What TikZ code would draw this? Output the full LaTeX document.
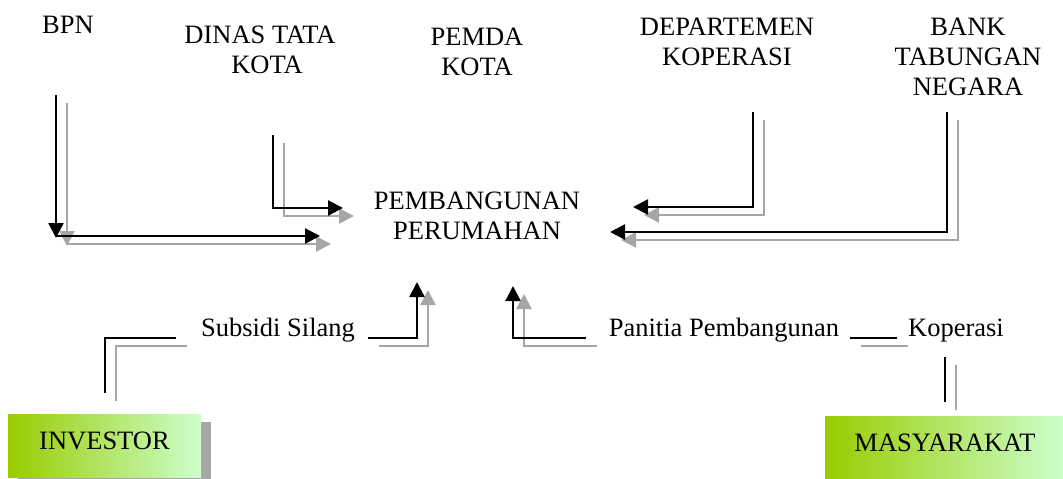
\documentclass[tikz,border=0pt]{standalone}
\usepackage{fontspec}
\setmainfont{Liberation Serif}
\usetikzlibrary{arrows.meta,shadows}
\definecolor{sgray}{RGB}{166,166,166}
\definecolor{gleft}{RGB}{153,204,0}
\definecolor{gright}{RGB}{204,255,204}

% all connectors of the chart; drawn once as a grey offset copy and once in black
\newcommand\flowlines{%
  \draw[conn,arr] (bpnA) -- (bpnB);
  \draw[conn,arr] (bpnC) -- (bpnD);
  \draw[conn,arr] (dinasA) -- (dinasB) -- (dinasC);
  \draw[conn,arr] (depA) -- (depB) -- (depC);
  \draw[conn,arr] (bankA) -- (bankB) -- (bankC);
  \draw[conn] (subA) -- (subB) -- (subC);
  \draw[conn,arr] (subD) -- (subE) -- (subF);
  \draw[conn,arr] (panA) -- (panB) -- (panC);
  \draw[conn] (kopA) -- (kopB);
  \draw[conn] (kopC) -- (kopD);
}

\begin{document}
\begin{tikzpicture}[x=1pt,y=-1pt,
  lbl/.style={font=\fontsize{26.5}{30}\selectfont, inner sep=0pt, align=center},
  conn/.style={line width=2.3pt},
  arr/.style={-{Triangle[length=15pt,width=15pt]}},
  greenbox/.style={lbl, left color=gleft, right color=gright, draw=none,
    text depth=10.4pt,
    drop shadow={shadow xshift=10pt, shadow yshift=-8pt, fill=sgray, opacity=1}}]
\useasboundingbox (0,0) rectangle (1063,479);
\clip (0,0) rectangle (1063,479);

% labels
\node[lbl, anchor=base] (bpn) at (68,34) {BPN};
\node[lbl, anchor=north] (dinas) at (260,25.6) {DINAS TATA\\\hspace*{14pt}KOTA};
\node[lbl, anchor=north] (pemda) at (477,27.6) {PEMDA\\KOTA};
\node[lbl, anchor=north] (dep) at (727,17.6) {DEPARTEMEN\\KOPERASI};
\node[lbl, anchor=north] (bank) at (968,17.6) {BANK\\TABUNGAN\\NEGARA};
\node[lbl, anchor=north] (pemb) at (477,191.6) {PEMBANGUNAN\\PERUMAHAN};
\node[lbl, anchor=base] (subsidi) at (278,336) {Subsidi Silang};
\node[lbl, anchor=base] (panitia) at (724,336) {Panitia Pembangunan};
\node[lbl, anchor=base] (koperasi) at (956,336) {Koperasi};

% boxes
\node[greenbox, minimum width=193pt, minimum height=63pt] (investor) at (104.5,445.5) {INVESTOR};
\node[greenbox, minimum width=240pt, minimum height=63pt] (masyarakat) at (945,447.5) {MASYARAKAT};

% connector end points
\coordinate (bpnA) at (56,95);   \coordinate (bpnB) at (56,238);
\coordinate (bpnC) at (56,236);  \coordinate (bpnD) at (320,236);
\coordinate (dinasA) at (273,135); \coordinate (dinasB) at (273,208); \coordinate (dinasC) at (343,208);
\coordinate (depA) at (753,112); \coordinate (depB) at (753,207); \coordinate (depC) at (633,207);
\coordinate (bankA) at (947,112); \coordinate (bankB) at (947,232); \coordinate (bankC) at (610,232);
\coordinate (subA) at (105,393); \coordinate (subB) at (105,338); \coordinate (subC) at (176,338);
\coordinate (subD) at (368,338); \coordinate (subE) at (417,338); \coordinate (subF) at (417,282);
\coordinate (panA) at (586,338); \coordinate (panB) at (513,338); \coordinate (panC) at (513,286);
\coordinate (kopA) at (850,338); \coordinate (kopB) at (897,338);
\coordinate (kopC) at (945,357); \coordinate (kopD) at (945,402);

\begin{scope}[color=sgray, transform canvas={shift={(11,8)}}]
  \flowlines
\end{scope}
\begin{scope}[color=black]
  \flowlines
\end{scope}
\end{tikzpicture}
\end{document}
